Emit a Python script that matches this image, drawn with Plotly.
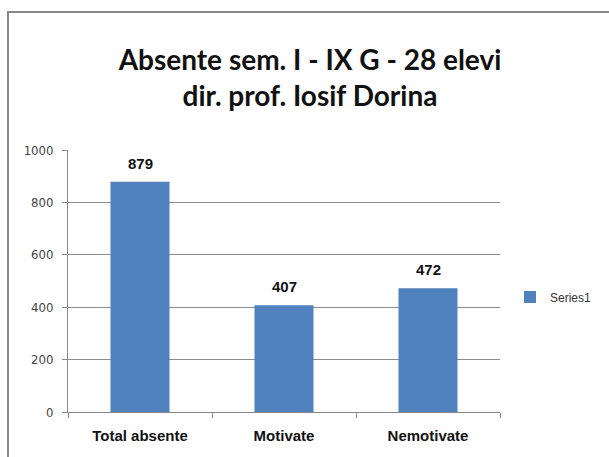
import plotly.graph_objects as go

categories = ["Total absente", "Motivate", "Nemotivate"]
values = [879, 407, 472]
series_name = "Series1"
title_lines = ["Absente sem. I - IX G - 28 elevi", "dir. prof. Iosif Dorina"]
y_ticks = [0, 200, 400, 600, 800, 1000]

fig = go.Figure()
fig.add_trace(go.Bar(
    x=categories, y=values, name=series_name,
    marker=dict(color="#4F81BD", line=dict(width=0)),
    width=0.41,
    showlegend=True,
))

for c, v in zip(categories, values):
    fig.add_annotation(
        x=c, y=v, xref="x", yref="y", text="<b>%d</b>" % v, showarrow=False,
        yanchor="bottom", yshift=8,
        font=dict(family="Liberation Sans, Arial, sans-serif", size=15, color="#111"),
    )

L, R, T, B = 68, 109, 150, 45
W, H = 609, 457
pw, ph = W - L - R, H - T - B

fig.update_layout(
    width=W, height=H,
    margin=dict(l=L, r=R, t=T, b=B, autoexpand=False),
    paper_bgcolor="white", plot_bgcolor="white",
    title=dict(
        text="<b>" + "<br>".join(title_lines) + "</b>",
        x=310 / W, xref="container", xanchor="center",
        y=1 - 70 / H, yanchor="middle",
        font=dict(family="Lato, sans-serif", size=28, color="#111"),
    ),
    font=dict(family="DejaVu Sans, sans-serif"),
    xaxis=dict(
        showgrid=False, showline=True, linecolor="#888", linewidth=1,
        ticks="outside", tickson="boundaries", ticklen=5, tickcolor="#888",
        ticklabelstandoff=10,
        tickfont=dict(family="Liberation Sans Narrow, Arial Narrow, sans-serif", size=15, color="#111"),
        tickprefix="<b>", ticksuffix="</b>",
    ),
    yaxis=dict(
        range=[0, 1000], tickvals=y_ticks, showgrid=True, gridcolor="#8c8c8c", gridwidth=1,
        showline=True, linecolor="#888", linewidth=1, ticks="outside", ticklen=5, tickcolor="#888",
        ticklabelstandoff=6,
        tickfont=dict(family="DejaVu Sans Condensed, DejaVu Sans, sans-serif", size=13, color="#444"),
        zeroline=False,
    ),
    legend=dict(
        x=(510 - L) / pw, xanchor="left", y=(H - B - 297) / ph, yanchor="middle",
        font=dict(family="Liberation Sans Narrow, Arial Narrow, sans-serif", size=12, color="#333"),
        itemwidth=30, bgcolor="rgba(0,0,0,0)",
    ),
    shapes=[dict(
        type="rect", xref="paper", yref="paper",
        x0=(8 - L) / pw, x1=(W + 20 - L) / pw,
        y0=-(60) / ph, y1=(H - B - 12) / ph,
        line=dict(color="#888", width=2), fillcolor="rgba(0,0,0,0)", layer="below",
    )],
)

fig.write_html("out.html", config={"displayModeBar": False},
               post_script="document.body.style.margin='0px';")
